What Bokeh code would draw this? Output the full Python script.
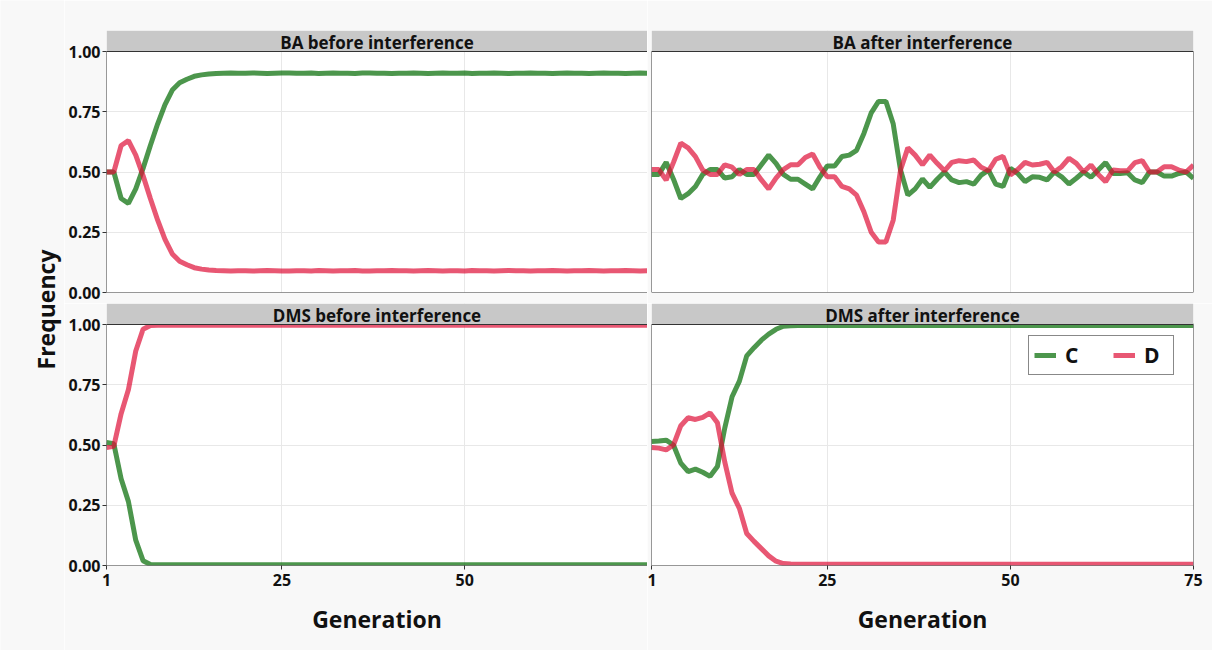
import math
from bokeh.plotting import figure
from bokeh.layouts import row, column
from bokeh.models import (Range1d, FixedTicker, Grid, Legend, LegendItem,
                          PrintfTickFormatter, Label, BoxAnnotation)
from bokeh.embed import file_html
from bokeh.resources import INLINE

# ---------------- data ----------------
generation = list(range(1, 76))
panel_titles = ["BA before interference", "BA after interference",
                "DMS before interference", "DMS after interference"]
series_names = ["C", "D"]
y_ticks = [0, 0.25, 0.5, 0.75, 1.0]
x_ticks_left = [1, 25, 50]
x_ticks_right = [1, 25, 50, 75]

ba_before_c = [
    0.500, 0.500, 0.390, 0.370, 0.430, 0.515, 0.610, 0.700, 0.780, 0.840,
    0.870, 0.885, 0.897, 0.903, 0.907, 0.909, 0.910, 0.911, 0.910, 0.910,
    0.911, 0.910, 0.909, 0.910, 0.911, 0.911, 0.910, 0.910, 0.911, 0.909,
    0.910, 0.911, 0.910, 0.910, 0.909, 0.911, 0.911, 0.910, 0.910, 0.909,
    0.910, 0.910, 0.911, 0.910, 0.909, 0.910, 0.911, 0.910, 0.910, 0.911,
    0.909, 0.910, 0.910, 0.911, 0.910, 0.909, 0.910, 0.910, 0.911, 0.910,
    0.910, 0.909, 0.910, 0.911, 0.910, 0.910, 0.909, 0.910, 0.911, 0.910,
    0.910, 0.909, 0.910, 0.911, 0.910]
ba_before_d = [
    0.500, 0.500, 0.610, 0.630, 0.570, 0.485, 0.390, 0.300, 0.220, 0.160,
    0.130, 0.115, 0.103, 0.097, 0.093, 0.091, 0.090, 0.089, 0.090, 0.090,
    0.089, 0.090, 0.091, 0.090, 0.089, 0.089, 0.090, 0.090, 0.089, 0.091,
    0.090, 0.089, 0.090, 0.090, 0.091, 0.089, 0.089, 0.090, 0.090, 0.091,
    0.090, 0.090, 0.089, 0.090, 0.091, 0.090, 0.089, 0.090, 0.090, 0.089,
    0.091, 0.090, 0.090, 0.089, 0.090, 0.091, 0.090, 0.090, 0.089, 0.090,
    0.090, 0.091, 0.090, 0.089, 0.090, 0.090, 0.091, 0.090, 0.089, 0.090,
    0.090, 0.091, 0.090, 0.089, 0.090]

ba_after_c = [
    0.490, 0.490, 0.540, 0.470, 0.390, 0.410, 0.440, 0.490, 0.510, 0.510,
    0.475, 0.480, 0.510, 0.490, 0.490, 0.530, 0.570, 0.536, 0.490, 0.470,
    0.470, 0.450, 0.430, 0.480, 0.525, 0.525, 0.564, 0.570, 0.590, 0.660,
    0.745, 0.793, 0.793, 0.700, 0.508, 0.404, 0.430, 0.471, 0.436, 0.470,
    0.500, 0.467, 0.456, 0.460, 0.450, 0.487, 0.508, 0.450, 0.440, 0.515,
    0.494, 0.460, 0.480, 0.478, 0.467, 0.500, 0.480, 0.450, 0.474, 0.500,
    0.478, 0.508, 0.539, 0.494, 0.494, 0.497, 0.467, 0.456, 0.500, 0.500,
    0.483, 0.483, 0.494, 0.500, 0.474]
ba_after_d = [
    0.510, 0.510, 0.467, 0.540, 0.620, 0.600, 0.564, 0.508, 0.490, 0.490,
    0.530, 0.520, 0.490, 0.510, 0.510, 0.467, 0.430, 0.475, 0.510, 0.530,
    0.530, 0.560, 0.575, 0.520, 0.480, 0.480, 0.440, 0.430, 0.404, 0.335,
    0.250, 0.210, 0.210, 0.300, 0.508, 0.600, 0.570, 0.530, 0.570, 0.536,
    0.505, 0.540, 0.547, 0.543, 0.550, 0.520, 0.505, 0.553, 0.565, 0.488,
    0.510, 0.540, 0.529, 0.532, 0.540, 0.500, 0.522, 0.557, 0.536, 0.500,
    0.529, 0.490, 0.460, 0.508, 0.505, 0.505, 0.539, 0.547, 0.500, 0.500,
    0.522, 0.522, 0.508, 0.500, 0.529]

dms_before_c = [
    0.510, 0.505, 0.360, 0.265, 0.105, 0.020, 0.004, 0.003, 0.003, 0.003,
    0.003, 0.003, 0.003, 0.003, 0.003, 0.003, 0.003, 0.003, 0.003, 0.003,
    0.003, 0.003, 0.003, 0.003, 0.003, 0.003, 0.003, 0.003, 0.003, 0.003,
    0.003, 0.003, 0.003, 0.003, 0.003, 0.003, 0.003, 0.003, 0.003, 0.003,
    0.003, 0.003, 0.003, 0.003, 0.003, 0.003, 0.003, 0.003, 0.003, 0.003,
    0.003, 0.003, 0.003, 0.003, 0.003, 0.003, 0.003, 0.003, 0.003, 0.003,
    0.003, 0.003, 0.003, 0.003, 0.003, 0.003, 0.003, 0.003, 0.003, 0.003,
    0.003, 0.003, 0.003, 0.003, 0.003]
dms_before_d = [
    0.490, 0.495, 0.630, 0.730, 0.890, 0.980, 0.996, 0.997, 0.997, 0.997,
    0.997, 0.997, 0.997, 0.997, 0.997, 0.997, 0.997, 0.997, 0.997, 0.997,
    0.997, 0.997, 0.997, 0.997, 0.997, 0.997, 0.997, 0.997, 0.997, 0.997,
    0.997, 0.997, 0.997, 0.997, 0.997, 0.997, 0.997, 0.997, 0.997, 0.997,
    0.997, 0.997, 0.997, 0.997, 0.997, 0.997, 0.997, 0.997, 0.997, 0.997,
    0.997, 0.997, 0.997, 0.997, 0.997, 0.997, 0.997, 0.997, 0.997, 0.997,
    0.997, 0.997, 0.997, 0.997, 0.997, 0.997, 0.997, 0.997, 0.997, 0.997,
    0.997, 0.997, 0.997, 0.997, 0.997]

dms_after_c = [
    0.515, 0.517, 0.520, 0.500, 0.425, 0.390, 0.400, 0.387, 0.370, 0.411,
    0.570, 0.700, 0.765, 0.870, 0.904, 0.935, 0.960, 0.980, 0.993, 0.995,
    0.996, 0.996, 0.996, 0.996, 0.996, 0.996, 0.996, 0.996, 0.996, 0.996,
    0.996, 0.996, 0.996, 0.996, 0.996, 0.996, 0.996, 0.996, 0.996, 0.996,
    0.996, 0.996, 0.996, 0.996, 0.996, 0.996, 0.996, 0.996, 0.996, 0.996,
    0.996, 0.996, 0.996, 0.996, 0.996, 0.996, 0.996, 0.996, 0.996, 0.996,
    0.996, 0.996, 0.996, 0.996, 0.996, 0.996, 0.996, 0.996, 0.996, 0.996,
    0.996, 0.996, 0.996, 0.996, 0.996]
dms_after_d = [
    0.490, 0.487, 0.480, 0.500, 0.580, 0.613, 0.606, 0.615, 0.633, 0.592,
    0.430, 0.300, 0.237, 0.133, 0.100, 0.070, 0.040, 0.018, 0.008, 0.006,
    0.005, 0.005, 0.005, 0.005, 0.005, 0.005, 0.005, 0.005, 0.005, 0.005,
    0.005, 0.005, 0.005, 0.005, 0.005, 0.005, 0.005, 0.005, 0.005, 0.005,
    0.005, 0.005, 0.005, 0.005, 0.005, 0.005, 0.005, 0.005, 0.005, 0.005,
    0.005, 0.005, 0.005, 0.005, 0.005, 0.005, 0.005, 0.005, 0.005, 0.005,
    0.005, 0.005, 0.005, 0.005, 0.005, 0.005, 0.005, 0.005, 0.005, 0.005,
    0.005, 0.005, 0.005, 0.005, 0.005]

# ---------------- style / layout ----------------
BG = "#f8f8f8"
STRIP = "#c8c8c8"
FONT = "Open Sans"
C_COLOR = "#006900"
D_COLOR = "#de1037"
LINE_ALPHA = 0.7
GRID_COLOR = "#e8e8e8"
FRAME_COLOR = "#333333"
TEXT_COLOR = "#111111"

PLOT_H = 241            # pixel height of the 0..1 area
STRIP_H = 21            # pixel height of the facet strip
Y_TOP = 1 + STRIP_H / PLOT_H
X_MIN, X_MAX = 1, 75

FREQ_W = 64
LEFT_BORDER, LEFT_FRAME, LEFT_RIGHT = 42, 541, 0
RIGHT_LEFT, RIGHT_FRAME, RIGHT_BORDER = 4, 542, 19
TOP_BORDER, MID_BORDER, BOTTOM_BORDER = 30, 11, 85
FRAME_H = PLOT_H + STRIP_H
TOP_FIG_H = TOP_BORDER + FRAME_H + MID_BORDER
BOT_FIG_H = FRAME_H + BOTTOM_BORDER
TOTAL_H = TOP_FIG_H + BOT_FIG_H


def style_axis(ax):
    ax.major_label_text_font = FONT
    ax.major_label_text_font_style = "bold"
    ax.major_label_text_font_size = "16px"
    ax.major_label_text_color = TEXT_COLOR
    ax.major_tick_in = 0
    ax.major_tick_out = 4
    ax.minor_tick_in = 0
    ax.minor_tick_out = 0
    ax.axis_line_color = None
    ax.major_tick_line_color = FRAME_COLOR


def make_panel(title, c_vals, d_vals, left, frame_w, right, top, bottom,
               show_x, show_y, xticks):
    p = figure(width=left + frame_w + right, height=top + FRAME_H + bottom,
               x_range=Range1d(X_MIN, X_MAX), y_range=Range1d(0, Y_TOP),
               output_backend="svg", toolbar_location=None, title=None,
               x_axis_location="below" if show_x else None,
               y_axis_location="left" if show_y else None,
               min_border=0, min_border_left=left, min_border_right=right,
               min_border_top=top, min_border_bottom=bottom)
    p.grid.visible = False
    p.background_fill_color = "white"
    p.border_fill_color = BG
    p.outline_line_color = None
    p.add_layout(Grid(dimension=0, ticker=FixedTicker(ticks=xticks),
                      grid_line_color=GRID_COLOR, grid_line_width=1))
    p.add_layout(Grid(dimension=1, ticker=FixedTicker(ticks=y_ticks),
                      grid_line_color=GRID_COLOR, grid_line_width=1))
    rc = p.line(generation, c_vals, line_color=C_COLOR, line_alpha=LINE_ALPHA, line_width=5)
    rd = p.line(generation, d_vals, line_color=D_COLOR, line_alpha=LINE_ALPHA, line_width=5)
    # facet strip (above the 0..1 area)
    p.quad(left=[X_MIN], right=[X_MAX], bottom=[1], top=[Y_TOP],
           fill_color=STRIP, line_color=None)
    p.add_layout(Label(x=(X_MIN + X_MAX) / 2, y=(1 + Y_TOP) / 2, text=title,
                       text_align="center", text_baseline="middle",
                       text_font=FONT, text_font_style="bold", text_font_size="17px",
                       text_color=TEXT_COLOR, y_offset=-1))
    # panel border
    p.add_layout(BoxAnnotation(left=X_MIN, right=X_MAX, bottom=0, top=1,
                               fill_alpha=0, fill_color=None,
                               line_color=FRAME_COLOR, line_width=1, line_alpha=1))
    if show_y:
        ax = p.yaxis[0]
        ax.ticker = FixedTicker(ticks=y_ticks)
        ax.formatter = PrintfTickFormatter(format="%.2f")
        style_axis(ax)
        ax.major_label_standoff = 2
    if show_x:
        ax = p.xaxis[0]
        ax.ticker = FixedTicker(ticks=xticks)
        style_axis(ax)
        ax.major_label_standoff = 4
        ax.axis_label = "Generation"
        ax.axis_label_text_font = FONT
        ax.axis_label_text_font_style = "bold"
        ax.axis_label_text_font_size = "23px"
        ax.axis_label_text_color = TEXT_COLOR
        ax.axis_label_standoff = 14
    return p, rc, rd


p_tl, _, _ = make_panel(panel_titles[0], ba_before_c, ba_before_d,
                        LEFT_BORDER, LEFT_FRAME, LEFT_RIGHT, TOP_BORDER, MID_BORDER,
                        False, True, x_ticks_left)
p_tr, _, _ = make_panel(panel_titles[1], ba_after_c, ba_after_d,
                        RIGHT_LEFT, RIGHT_FRAME, RIGHT_BORDER, TOP_BORDER, MID_BORDER,
                        False, False, x_ticks_right)
p_bl, _, _ = make_panel(panel_titles[2], dms_before_c, dms_before_d,
                        LEFT_BORDER, LEFT_FRAME, LEFT_RIGHT, 0, BOTTOM_BORDER,
                        True, True, x_ticks_left)
p_br, rc, rd = make_panel(panel_titles[3], dms_after_c, dms_after_d,
                          RIGHT_LEFT, RIGHT_FRAME, RIGHT_BORDER, 0, BOTTOM_BORDER,
                          True, False, x_ticks_right)

# legend: bottom-left corner given in pixels from the panel's bottom-left corner
legend = Legend(items=[LegendItem(label=series_names[0], renderers=[rc]),
                       LegendItem(label=series_names[1], renderers=[rd])],
                orientation="horizontal", location=(377, 190), margin=0,
                padding=5, spacing=24, glyph_width=22, glyph_height=20,
                label_standoff=9, label_width=24,
                border_line_color=TEXT_COLOR, border_line_width=1.5,
                background_fill_color="white", background_fill_alpha=1,
                label_text_font=FONT, label_text_font_style="bold",
                label_text_font_size="21px", label_text_color=TEXT_COLOR)
p_br.add_layout(legend)

freq = figure(width=FREQ_W, height=TOTAL_H, x_range=Range1d(0, 1), y_range=Range1d(0, 1),
              output_backend="svg", toolbar_location=None, title=None,
              x_axis_location=None, y_axis_location=None, min_border=0)
freq.grid.visible = False
freq.background_fill_color = BG
freq.border_fill_color = BG
freq.outline_line_color = None
freq.add_layout(Label(x=45 / FREQ_W, y=1 - 309 / TOTAL_H, text="Frequency", angle=math.pi / 2,
                      text_align="center", text_baseline="middle",
                      text_font=FONT, text_font_style="bold", text_font_size="23px",
                      text_color=TEXT_COLOR))

panels = column(row(p_tl, p_tr), row(p_bl, p_br))
layout = row(freq, panels)

open("out.html", "w").write(file_html(layout, INLINE))
